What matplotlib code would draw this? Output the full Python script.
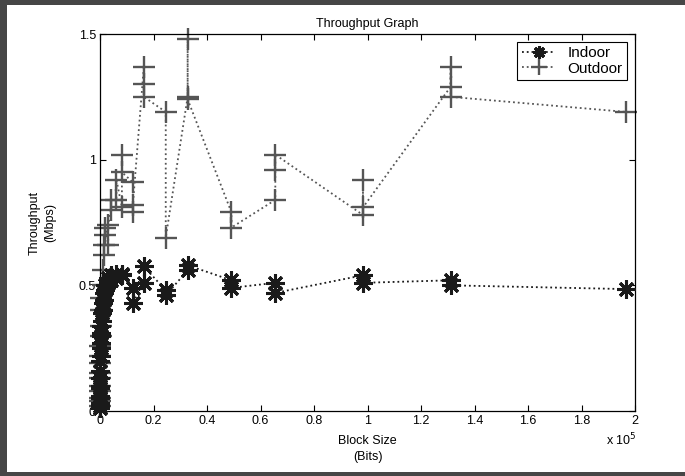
import matplotlib
matplotlib.use("Agg")
import matplotlib.pyplot as plt
from matplotlib.patches import Rectangle
import numpy as np

# block sizes in bits, several runs per size
indoor_bits = [8, 8, 16, 16, 32, 32, 64, 64, 128, 128, 256, 256, 384, 384,
               512, 512, 768, 768, 1024, 1024, 1536, 1536, 2048, 2048,
               3072, 3072, 4096, 4096, 6144, 6144, 8192, 8192,
               12288, 12288, 16384, 16384, 24576, 24576, 32768, 32768,
               49152, 49152, 65536, 65536, 98304, 98304, 131072, 131072, 196608]
indoor_mbps = [0.01, 0.02, 0.03, 0.05, 0.06, 0.09, 0.10, 0.13, 0.16, 0.20,
               0.22, 0.25, 0.27, 0.30, 0.31, 0.34, 0.36, 0.39, 0.40, 0.43,
               0.44, 0.47, 0.48, 0.50, 0.51, 0.53, 0.52, 0.54, 0.53, 0.545,
               0.54, 0.545, 0.49, 0.43, 0.51, 0.575, 0.48, 0.46, 0.56, 0.58,
               0.52, 0.49, 0.51, 0.47, 0.54, 0.51, 0.52, 0.50, 0.485]

outdoor_bits = [8, 8, 16, 16, 32, 32, 64, 64, 128, 128, 256, 256, 512, 512,
                1024, 1024, 1536, 1536, 2048, 2048, 3072, 3072, 4096, 4096,
                6144, 6144, 8192, 8192, 8192, 12288, 12288, 12288,
                16384, 16384, 16384, 24576, 24576, 32768, 32768, 32768,
                49152, 49152, 65536, 65536, 65536, 98304, 98304, 98304,
                131072, 131072, 131072, 196608]
outdoor_mbps = [0.02, 0.04, 0.05, 0.08, 0.10, 0.13, 0.15, 0.19, 0.22, 0.26,
                0.30, 0.34, 0.40, 0.45, 0.50, 0.56, 0.62, 0.66, 0.70, 0.73,
                0.66, 0.74, 0.80, 0.84, 0.84, 0.92, 0.81, 1.02, 0.95,
                0.91, 0.79, 0.82, 1.37, 1.30, 1.25, 1.19, 0.69,
                1.25, 1.48, 1.24, 0.79, 0.73, 0.84, 0.96, 1.02,
                0.78, 0.92, 0.81, 1.29, 1.37, 1.25, 1.19]

x_ticks = [0, 0.2, 0.4, 0.6, 0.8, 1, 1.2, 1.4, 1.6, 1.8, 2]
y_ticks = [0, 0.5, 1, 1.5]

plt.rcParams['font.family'] = ['Liberation Sans', 'DejaVu Sans']

fig = plt.figure(figsize=(6.85, 4.76), dpi=100, facecolor='#464646')
# white slide panel behind the chart
fig.patches.append(Rectangle((7 / 685, 4 / 476), 1, 467 / 476,
                             transform=fig.transFigure, facecolor='white',
                             edgecolor='none', zorder=-10))
ax = fig.add_axes([100 / 685, 1 - 411 / 476, 535 / 685, 377 / 476])

ax.plot(np.array(outdoor_bits) / 1e5, outdoor_mbps, linestyle=':', color='#555555',
        marker='+', markersize=16, markeredgewidth=1.7, linewidth=1.3,
        label='Outdoor', zorder=2, clip_on=False)
ax.plot(np.array(indoor_bits) / 1e5, indoor_mbps, linestyle=':', color='#1a1a1a',
        marker=(8, 2, 0), markersize=13, markeredgewidth=2.2, linewidth=1.3,
        label='Indoor', zorder=3, clip_on=False)

ax.set_xlim(0, 2)
ax.set_ylim(0, 1.5)
ax.set_xticks(x_ticks)
ax.set_xticklabels(['0', '0.2', '0.4', '0.6', '0.8', '1', '1.2', '1.4', '1.6', '1.8', '2'])
ax.set_yticks(y_ticks)
ax.set_yticklabels(['0', '0.5', '1', '1.5'])
ax.tick_params(direction='in', length=4, top=True, right=True, labelsize=9,
               pad=3, width=0.8)
for s in ax.spines.values():
    s.set_linewidth(0.9)

ax.set_title('Throughput Graph', fontsize=9, pad=5)
ax.set_xlabel('Block Size\n(Bits)', fontsize=9, labelpad=6, linespacing=1.4)
ax.set_ylabel('Throughput\n(Mbps)', fontsize=9, labelpad=16, linespacing=1.4)
ax.text(1.003, -0.055, r'x 10$^5$', transform=ax.transAxes, fontsize=9,
        ha='right', va='top')

handles, labels = ax.get_legend_handles_labels()
leg = ax.legend(handles[::-1], labels[::-1], loc='upper right', fontsize=11,
                fancybox=False, framealpha=1, edgecolor='black',
                handlelength=2.2, handletextpad=0.8, borderaxespad=0.5,
                labelspacing=0.1, borderpad=0.3, markerscale=0.7)
leg.get_frame().set_linewidth(0.8)

fig.savefig('out.png', dpi=100, facecolor=fig.get_facecolor())
